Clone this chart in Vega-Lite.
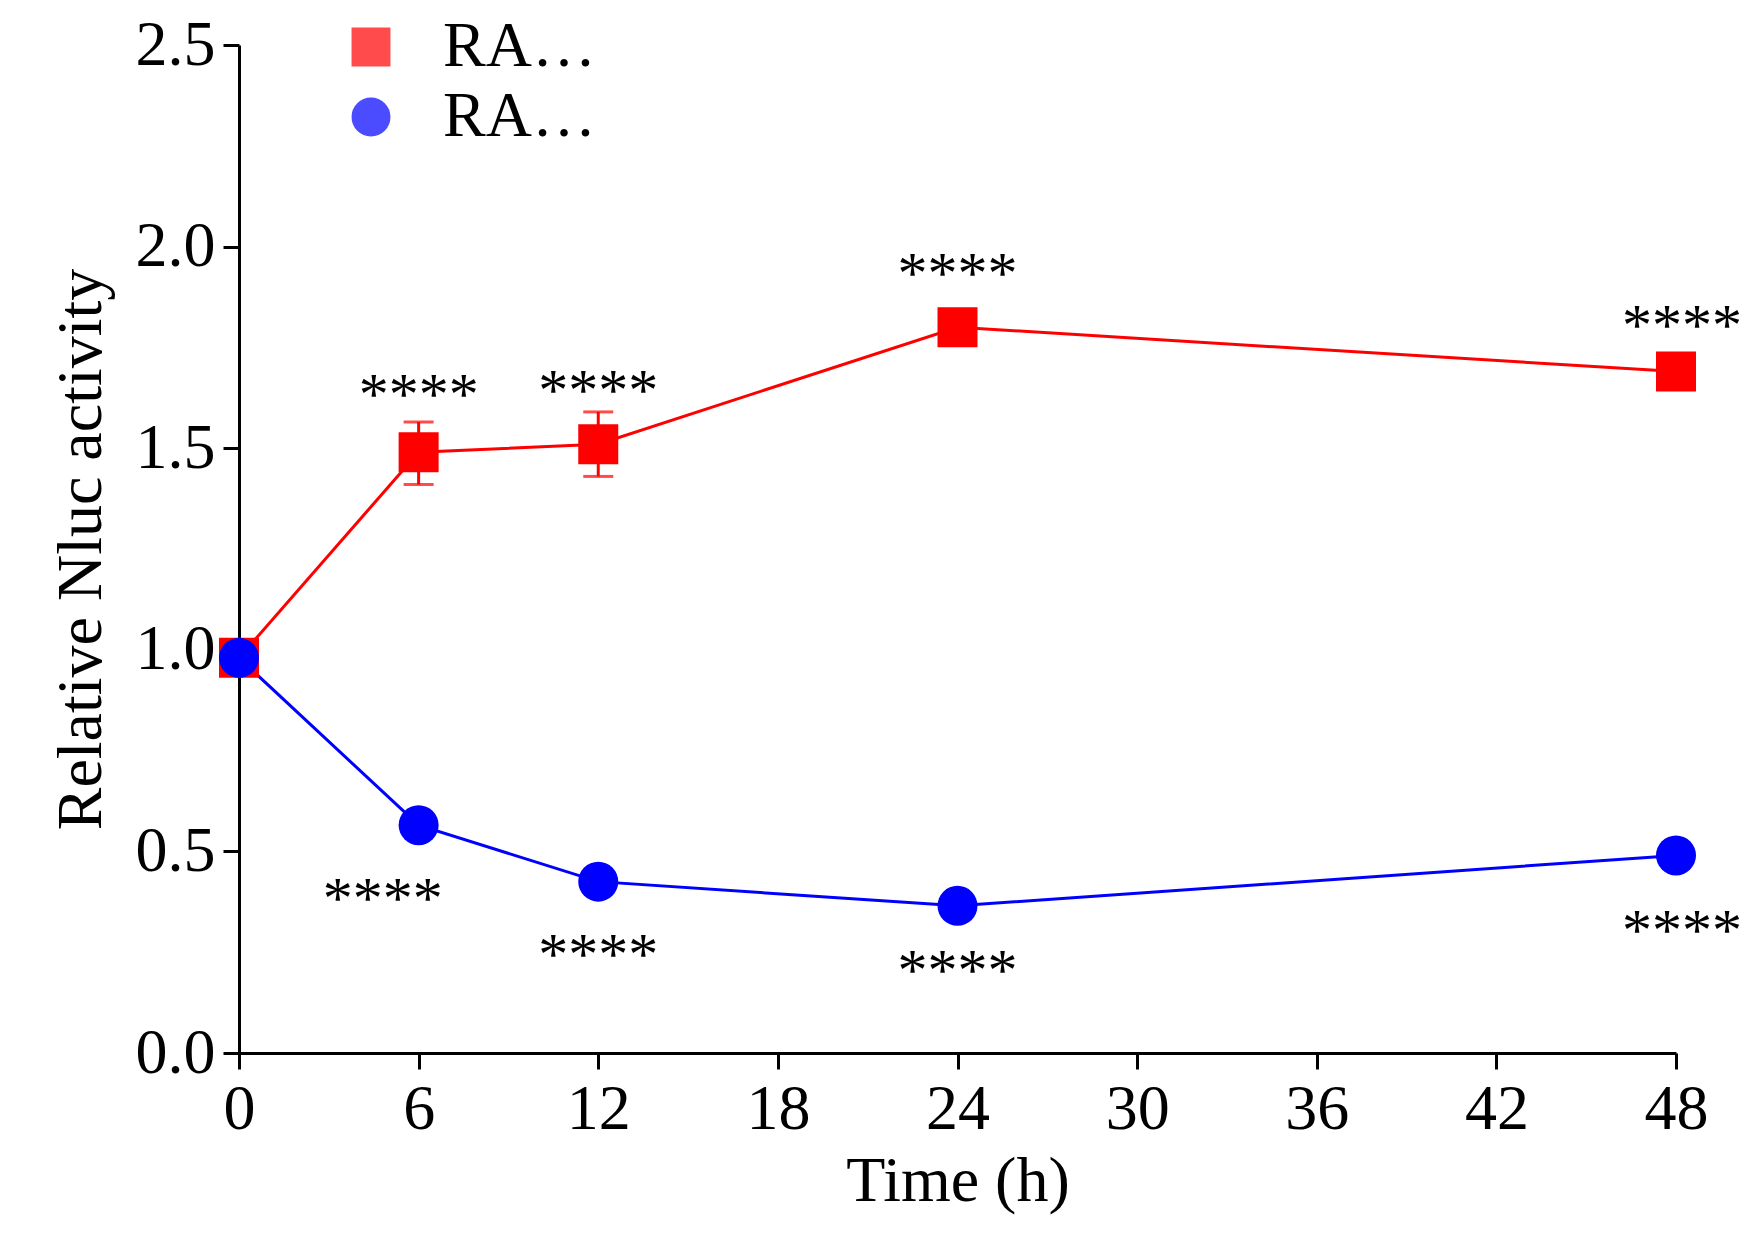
{
  "$schema": "https://vega.github.io/schema/vega-lite/v6.json",
  "autosize": "none",
  "width": 1437,
  "height": 1008,
  "padding": {"left": 239, "top": 45, "right": 81, "bottom": 192},
  "background": "white",
  "datasets": {
    "points": [
      {"time": 0, "value": 0.98, "lo": 0.98, "hi": 0.98, "series": "RAW-PArg1"},
      {"time": 6, "value": 1.49, "lo": 1.41, "hi": 1.565, "series": "RAW-PArg1"},
      {"time": 12, "value": 1.51, "lo": 1.43, "hi": 1.59, "series": "RAW-PArg1"},
      {"time": 24, "value": 1.8, "lo": 1.8, "hi": 1.8, "series": "RAW-PArg1"},
      {"time": 48, "value": 1.69, "lo": 1.69, "hi": 1.69, "series": "RAW-PArg1"},
      {"time": 0, "value": 0.98, "lo": 0.98, "hi": 0.98, "series": "RAW-PNos2"},
      {"time": 6, "value": 0.565, "lo": 0.565, "hi": 0.565, "series": "RAW-PNos2"},
      {"time": 12, "value": 0.425, "lo": 0.425, "hi": 0.425, "series": "RAW-PNos2"},
      {"time": 24, "value": 0.365, "lo": 0.365, "hi": 0.365, "series": "RAW-PNos2"},
      {"time": 48, "value": 0.49, "lo": 0.49, "hi": 0.49, "series": "RAW-PNos2"}
    ],
    "stars": [
      {"time": 6, "y": 1.63},
      {"time": 12, "y": 1.64},
      {"time": 24, "y": 1.93},
      {"time": 48.2, "y": 1.8},
      {"time": 4.8, "y": 0.38},
      {"time": 12, "y": 0.24},
      {"time": 24, "y": 0.2},
      {"time": 48.2, "y": 0.3}
    ]
  },
  "layer": [
    {
      "data": {"name": "points"},
      "mark": {"type": "rule", "strokeWidth": 3},
      "encoding": {
        "x": {"field": "time", "type": "quantitative"},
        "y": {"field": "lo", "type": "quantitative"},
        "y2": {"field": "hi"},
        "color": {"field": "series", "type": "nominal"}
      }
    },
    {
      "data": {"name": "points"},
      "mark": {"type": "tick", "orient": "horizontal", "thickness": 3, "size": 30},
      "encoding": {
        "x": {"field": "time", "type": "quantitative"},
        "y": {"field": "lo", "type": "quantitative"},
        "color": {"field": "series", "type": "nominal"}
      }
    },
    {
      "data": {"name": "points"},
      "mark": {"type": "tick", "orient": "horizontal", "thickness": 3, "size": 30},
      "encoding": {
        "x": {"field": "time", "type": "quantitative"},
        "y": {"field": "hi", "type": "quantitative"},
        "color": {"field": "series", "type": "nominal"}
      }
    },
    {
      "data": {"name": "points"},
      "mark": {"type": "line", "strokeWidth": 3},
      "encoding": {
        "x": {"field": "time", "type": "quantitative"},
        "y": {"field": "value", "type": "quantitative"},
        "color": {"field": "series", "type": "nominal"}
      }
    },
    {
      "data": {"name": "points"},
      "mark": {"type": "point", "filled": true, "opacity": 1, "size": 1600},
      "encoding": {
        "x": {
          "field": "time", "type": "quantitative",
          "scale": {"domain": [0, 48], "nice": false},
          "axis": {"values": [0, 6, 12, 18, 24, 30, 36, 42, 48], "title": "Time (h)", "titlePadding": 8}
        },
        "y": {
          "field": "value", "type": "quantitative",
          "scale": {"domain": [0, 2.5], "nice": false},
          "axis": {"values": [0, 0.5, 1, 1.5, 2, 2.5], "format": ".1f", "title": "Relative Nluc activity", "titlePadding": 22}
        },
        "color": {"field": "series", "type": "nominal",
          "scale": {"domain": ["RAW-PArg1", "RAW-PNos2"], "range": ["#ff0000", "#0000ff"]},
          "legend": {"orient": "none", "legendX": 100, "legendY": -30, "title": null,
            "labelFontSize": 64, "labelFont": "Liberation Serif", "labelColor": "black",
            "symbolSize": 1400, "rowPadding": 6, "labelOffset": 40}},
        "shape": {"field": "series", "type": "nominal",
          "scale": {"domain": ["RAW-PArg1", "RAW-PNos2"], "range": ["square", "circle"]},
          "legend": {"orient": "none", "legendX": 100, "legendY": -30, "title": null,
            "labelFontSize": 64, "labelFont": "Liberation Serif", "labelColor": "black",
            "symbolSize": 1400, "rowPadding": 6, "labelOffset": 40}}
      }
    },
    {
      "data": {"name": "stars"},
      "mark": {"type": "text", "text": "****", "font": "Liberation Serif", "fontSize": 60, "baseline": "middle", "align": "center", "color": "black"},
      "encoding": {
        "x": {"field": "time", "type": "quantitative"},
        "y": {"field": "y", "type": "quantitative"}
      }
    }
  ],
  "config": {
    "view": {"stroke": null},
    "axis": {
      "grid": false,
      "domainColor": "black",
      "domainWidth": 3,
      "tickColor": "black",
      "tickWidth": 3,
      "tickSize": 16,
      "labelFont": "Liberation Serif",
      "labelFontSize": 64,
      "labelColor": "black",
      "labelPadding": 8,
      "titleFont": "Liberation Serif",
      "titleFontSize": 64,
      "titleFontWeight": "normal",
      "titleColor": "black"
    },
    "axisX": {"labelFlush": false}
  }
}
